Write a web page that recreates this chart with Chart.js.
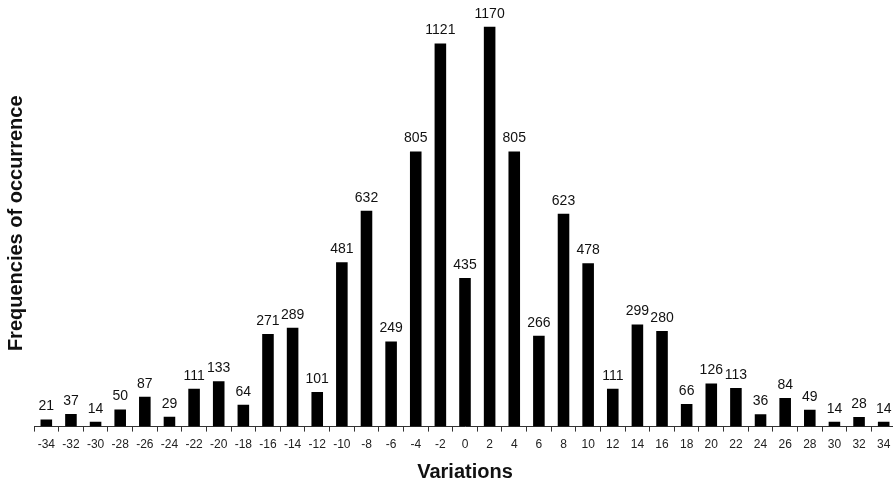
<!DOCTYPE html>
<html>
<head>
<meta charset="utf-8">
<title>Variations</title>
<script src="https://cdn.jsdelivr.net/npm/chart.js@4/dist/chart.umd.min.js"></script>
<style>
  html, body { margin: 0; padding: 0; background: #fff; overflow: hidden; }
  #wrap { width: 900px; height: 485px; }
</style>
</head>
<body>
<div id="wrap"><canvas id="freqChart" width="900" height="485"></canvas></div>
<script>
// Variation steps (categories) and how often each occurred
const variations = [-34, -32, -30, -28, -26, -24, -22, -20, -18, -16, -14, -12, -10, -8, -6, -4, -2,
  0, 2, 4, 6, 8, 10, 12, 14, 16, 18, 20, 22, 24, 26, 28, 30, 32, 34];
const frequencies = [21, 37, 14, 50, 87, 29, 111, 133, 64, 271, 289, 101, 481, 632, 249, 805, 1121,
  435, 1170, 805, 266, 623, 478, 111, 299, 280, 66, 126, 113, 36, 84, 49, 14, 28, 14];

const FONT = "Arial, 'Liberation Sans', sans-serif";

// prints the count above each bar
const valueLabels = {
  id: 'valueLabels',
  afterDatasetsDraw(chart) {
    const ctx = chart.ctx;
    const meta = chart.getDatasetMeta(0);
    ctx.save();
    ctx.font = '14px ' + FONT;
    ctx.fillStyle = '#111';
    ctx.textAlign = 'center';
    ctx.textBaseline = 'middle';
    meta.data.forEach((bar, i) => {
      ctx.fillText(String(frequencies[i]), bar.x, bar.y - 13);
    });
    ctx.restore();
  }
};

new Chart(document.getElementById('freqChart'), {
  type: 'bar',
  data: {
    labels: variations.map(String),
    datasets: [{
      data: frequencies,
      backgroundColor: '#000',
      borderWidth: 0,
      barPercentage: 1,
      categoryPercentage: 0.47
    }]
  },
  options: {
    responsive: false,
    animation: false,
    layout: { padding: { top: 20, right: 4, bottom: 0, left: 0 } },
    plugins: {
      legend: { display: false },
      tooltip: { enabled: false }
    },
    scales: {
      x: {
        offset: true,
        grid: {
          display: true,
          offset: true,
          drawOnChartArea: false,
          tickLength: 5,
          color: '#333'
        },
        border: { display: true, color: '#333', width: 1 },
        ticks: {
          color: '#222',
          padding: 6,
          maxRotation: 0,
          autoSkip: false,
          font: { family: FONT, size: 12 }
        },
        title: {
          display: true,
          text: 'Variations',
          color: '#111',
          padding: { top: 2, bottom: 1 },
          font: { family: FONT, size: 20, weight: 'bold' }
        }
      },
      y: {
        min: 0,
        max: 1190,
        grid: { display: false },
        border: { display: false },
        ticks: { display: false },
        title: {
          display: true,
          text: 'Frequencies of occurrence',
          color: '#111',
          padding: { top: 6, bottom: 0 },
          font: { family: FONT, size: 20, weight: 'bold', lineHeight: 1 }
        }
      }
    }
  },
  plugins: [valueLabels]
});
</script>
</body>
</html>
